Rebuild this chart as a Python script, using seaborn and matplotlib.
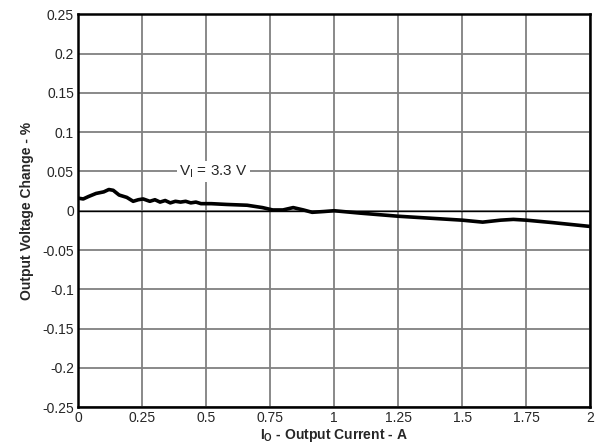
import matplotlib
matplotlib.use("Agg")
from matplotlib import pyplot as plt
import pandas as pd
import seaborn as sns

# Output current (A) and output voltage change (%)
current_a = [0.0, 0.02, 0.04, 0.07, 0.1, 0.12, 0.137, 0.16, 0.19, 0.215, 0.235, 0.254,
             0.28, 0.3, 0.32, 0.34, 0.36, 0.38, 0.40, 0.42, 0.44, 0.46, 0.48, 0.52,
             0.58, 0.66, 0.72, 0.76, 0.80, 0.84, 0.88, 0.914, 0.96, 1.0, 1.1,
             1.25, 1.4, 1.5, 1.58, 1.65, 1.7, 1.75, 1.85, 2.0]
voltage_change = [0.016, 0.015, 0.018, 0.022, 0.024, 0.027, 0.026, 0.020, 0.017, 0.012,
                  0.014, 0.015, 0.012, 0.014, 0.011, 0.013, 0.010, 0.012, 0.011, 0.012,
                  0.010, 0.011, 0.009, 0.009, 0.008, 0.007, 0.004, 0.001, 0.001, 0.004,
                  0.001, -0.002, -0.001, 0.0, -0.003, -0.007, -0.010, -0.012, -0.0145,
                  -0.012, -0.011, -0.012, -0.015, -0.020]
x_ticks = [0, 0.25, 0.5, 0.75, 1, 1.25, 1.5, 1.75, 2]
x_tick_labels = ["0", "0.25", "0.5", "0.75", "1", "1.25", "1.5", "1.75", "2"]
y_ticks = [-0.25, -0.2, -0.15, -0.1, -0.05, 0, 0.05, 0.1, 0.15, 0.2, 0.25]
y_tick_labels = ["-0.25", "-0.2", "-0.15", "-0.1", "-0.05", "0", "0.05", "0.1", "0.15", "0.2", "0.25"]

df = pd.DataFrame({"current": current_a, "change": voltage_change})

sns.set_style("white")
plt.rcParams["font.family"] = ["Liberation Sans", "DejaVu Sans"]

fig, ax = plt.subplots(figsize=(6.01, 4.46), dpi=100)
fig.subplots_adjust(left=0.13, right=0.982, top=0.968, bottom=0.087)

ax.set_xticks(x_ticks)
ax.set_xticklabels(x_tick_labels)
ax.set_yticks(y_ticks)
ax.set_yticklabels(y_tick_labels)
ax.set_xlim(0, 2)
ax.set_ylim(-0.25, 0.25)
ax.grid(True, color="#808080", linewidth=1.3)
ax.set_axisbelow(True)
ax.axhline(0, color="black", linewidth=1.0, zorder=1.5)

sns.lineplot(data=df, x="current", y="change", ax=ax, color="black", linewidth=2.6, zorder=3)

ax.text(0.528, 0.05, "V$_\\mathregular{I}$ = 3.3 V", ha="center", va="center", fontsize=11,
        bbox=dict(facecolor="white", edgecolor="none", pad=1.5), zorder=4)

for s in ax.spines.values():
    s.set_color("black")
    s.set_linewidth(1.8)
ax.tick_params(axis="both", labelsize=10, length=0, pad=3)
ax.set_xlabel("I$_\\mathregular{O}$ - Output Current - A", fontsize=10, fontweight="bold", labelpad=1)
ax.set_ylabel("Output Voltage Change - %", fontsize=10, fontweight="bold", labelpad=6)

fig.savefig("out.png", dpi=100)
